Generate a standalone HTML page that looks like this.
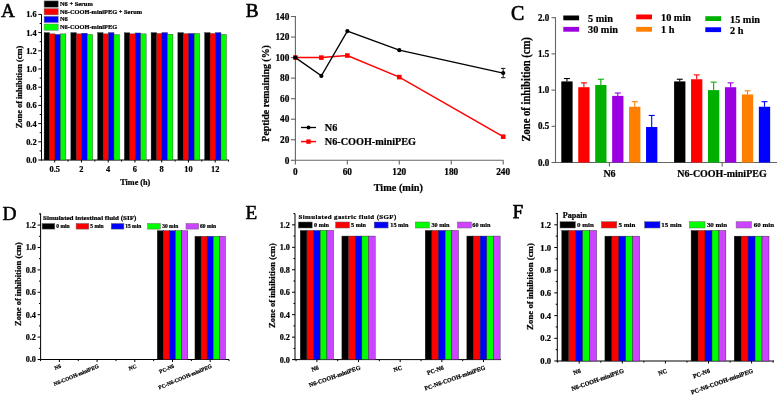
<!DOCTYPE html>
<html><head><meta charset="utf-8"><style>
html,body{margin:0;padding:0;background:#fff;}
svg{display:block;will-change:transform;}
text{font-family:"Liberation Serif", serif; stroke:#000; stroke-width:0.22px;}
</style></head><body>
<svg width="777" height="396" viewBox="0 0 777 396">
<rect x="0" y="0" width="777" height="396" fill="#fff"/>
<text x="0.90" y="16.80" font-size="19.3" font-weight="normal" text-anchor="start" fill="#000" style="stroke-width:0.5px">A</text>
<line x1="41.50" y1="14.40" x2="41.50" y2="160.50" stroke="#000" stroke-width="1.0"/>
<line x1="38.30" y1="160.00" x2="41.50" y2="160.00" stroke="#000" stroke-width="1.0"/>
<text x="36.60" y="162.90" font-size="8.4" font-weight="bold" text-anchor="end" fill="#000" >0.0</text>
<line x1="39.70" y1="150.90" x2="41.50" y2="150.90" stroke="#000" stroke-width="1.0"/>
<line x1="38.30" y1="141.80" x2="41.50" y2="141.80" stroke="#000" stroke-width="1.0"/>
<text x="36.60" y="144.70" font-size="8.4" font-weight="bold" text-anchor="end" fill="#000" >0.2</text>
<line x1="39.70" y1="132.70" x2="41.50" y2="132.70" stroke="#000" stroke-width="1.0"/>
<line x1="38.30" y1="123.60" x2="41.50" y2="123.60" stroke="#000" stroke-width="1.0"/>
<text x="36.60" y="126.50" font-size="8.4" font-weight="bold" text-anchor="end" fill="#000" >0.4</text>
<line x1="39.70" y1="114.50" x2="41.50" y2="114.50" stroke="#000" stroke-width="1.0"/>
<line x1="38.30" y1="105.40" x2="41.50" y2="105.40" stroke="#000" stroke-width="1.0"/>
<text x="36.60" y="108.30" font-size="8.4" font-weight="bold" text-anchor="end" fill="#000" >0.6</text>
<line x1="39.70" y1="96.30" x2="41.50" y2="96.30" stroke="#000" stroke-width="1.0"/>
<line x1="38.30" y1="87.20" x2="41.50" y2="87.20" stroke="#000" stroke-width="1.0"/>
<text x="36.60" y="90.10" font-size="8.4" font-weight="bold" text-anchor="end" fill="#000" >0.8</text>
<line x1="39.70" y1="78.10" x2="41.50" y2="78.10" stroke="#000" stroke-width="1.0"/>
<line x1="38.30" y1="69.00" x2="41.50" y2="69.00" stroke="#000" stroke-width="1.0"/>
<text x="36.60" y="71.90" font-size="8.4" font-weight="bold" text-anchor="end" fill="#000" >1.0</text>
<line x1="39.70" y1="59.90" x2="41.50" y2="59.90" stroke="#000" stroke-width="1.0"/>
<line x1="38.30" y1="50.80" x2="41.50" y2="50.80" stroke="#000" stroke-width="1.0"/>
<text x="36.60" y="53.70" font-size="8.4" font-weight="bold" text-anchor="end" fill="#000" >1.2</text>
<line x1="39.70" y1="41.70" x2="41.50" y2="41.70" stroke="#000" stroke-width="1.0"/>
<line x1="38.30" y1="32.60" x2="41.50" y2="32.60" stroke="#000" stroke-width="1.0"/>
<text x="36.60" y="35.50" font-size="8.4" font-weight="bold" text-anchor="end" fill="#000" >1.4</text>
<line x1="39.70" y1="23.50" x2="41.50" y2="23.50" stroke="#000" stroke-width="1.0"/>
<line x1="38.30" y1="14.40" x2="41.50" y2="14.40" stroke="#000" stroke-width="1.0"/>
<text x="36.60" y="17.30" font-size="8.4" font-weight="bold" text-anchor="end" fill="#000" >1.6</text>
<line x1="41.00" y1="160.00" x2="228.70" y2="160.00" stroke="#000" stroke-width="1.0"/>
<rect x="44.10" y="32.60" width="5.45" height="127.40" fill="#000000" stroke="#222" stroke-width="0.35"/>
<rect x="49.55" y="33.87" width="5.45" height="126.13" fill="#ff0000" stroke="#222" stroke-width="0.35"/>
<rect x="55.00" y="34.42" width="5.45" height="125.58" fill="#0000ff" stroke="#222" stroke-width="0.35"/>
<rect x="60.45" y="33.87" width="5.45" height="126.13" fill="#00ff00" stroke="#222" stroke-width="0.35"/>
<line x1="54.70" y1="160.00" x2="54.70" y2="162.50" stroke="#000" stroke-width="1.0"/>
<line x1="68.08" y1="160.00" x2="68.08" y2="161.60" stroke="#000" stroke-width="1.0"/>
<text x="54.70" y="172.00" font-size="8.4" font-weight="bold" text-anchor="middle" fill="#000" >0.5</text>
<rect x="70.85" y="32.60" width="5.45" height="127.40" fill="#000000" stroke="#222" stroke-width="0.35"/>
<rect x="76.30" y="33.87" width="5.45" height="126.13" fill="#ff0000" stroke="#222" stroke-width="0.35"/>
<rect x="81.75" y="33.24" width="5.45" height="126.76" fill="#0000ff" stroke="#222" stroke-width="0.35"/>
<rect x="87.20" y="34.42" width="5.45" height="125.58" fill="#00ff00" stroke="#222" stroke-width="0.35"/>
<line x1="81.45" y1="160.00" x2="81.45" y2="162.50" stroke="#000" stroke-width="1.0"/>
<line x1="94.83" y1="160.00" x2="94.83" y2="161.60" stroke="#000" stroke-width="1.0"/>
<text x="81.45" y="172.00" font-size="8.4" font-weight="bold" text-anchor="middle" fill="#000" >2</text>
<rect x="97.60" y="32.60" width="5.45" height="127.40" fill="#000000" stroke="#222" stroke-width="0.35"/>
<rect x="103.05" y="33.87" width="5.45" height="126.13" fill="#ff0000" stroke="#222" stroke-width="0.35"/>
<rect x="108.50" y="32.60" width="5.45" height="127.40" fill="#0000ff" stroke="#222" stroke-width="0.35"/>
<rect x="113.95" y="34.60" width="5.45" height="125.40" fill="#00ff00" stroke="#222" stroke-width="0.35"/>
<line x1="108.20" y1="160.00" x2="108.20" y2="162.50" stroke="#000" stroke-width="1.0"/>
<line x1="121.58" y1="160.00" x2="121.58" y2="161.60" stroke="#000" stroke-width="1.0"/>
<text x="108.20" y="172.00" font-size="8.4" font-weight="bold" text-anchor="middle" fill="#000" >4</text>
<rect x="124.35" y="32.78" width="5.45" height="127.22" fill="#000000" stroke="#222" stroke-width="0.35"/>
<rect x="129.80" y="33.87" width="5.45" height="126.13" fill="#ff0000" stroke="#222" stroke-width="0.35"/>
<rect x="135.25" y="32.96" width="5.45" height="127.04" fill="#0000ff" stroke="#222" stroke-width="0.35"/>
<rect x="140.70" y="33.87" width="5.45" height="126.13" fill="#00ff00" stroke="#222" stroke-width="0.35"/>
<line x1="134.95" y1="160.00" x2="134.95" y2="162.50" stroke="#000" stroke-width="1.0"/>
<line x1="148.32" y1="160.00" x2="148.32" y2="161.60" stroke="#000" stroke-width="1.0"/>
<text x="134.95" y="172.00" font-size="8.4" font-weight="bold" text-anchor="middle" fill="#000" >6</text>
<rect x="151.10" y="32.60" width="5.45" height="127.40" fill="#000000" stroke="#222" stroke-width="0.35"/>
<rect x="156.55" y="33.51" width="5.45" height="126.49" fill="#ff0000" stroke="#222" stroke-width="0.35"/>
<rect x="162.00" y="32.60" width="5.45" height="127.40" fill="#0000ff" stroke="#222" stroke-width="0.35"/>
<rect x="167.45" y="34.24" width="5.45" height="125.76" fill="#00ff00" stroke="#222" stroke-width="0.35"/>
<line x1="161.70" y1="160.00" x2="161.70" y2="162.50" stroke="#000" stroke-width="1.0"/>
<line x1="175.07" y1="160.00" x2="175.07" y2="161.60" stroke="#000" stroke-width="1.0"/>
<text x="161.70" y="172.00" font-size="8.4" font-weight="bold" text-anchor="middle" fill="#000" >8</text>
<rect x="177.85" y="32.60" width="5.45" height="127.40" fill="#000000" stroke="#222" stroke-width="0.35"/>
<rect x="183.30" y="33.69" width="5.45" height="126.31" fill="#ff0000" stroke="#222" stroke-width="0.35"/>
<rect x="188.75" y="33.51" width="5.45" height="126.49" fill="#0000ff" stroke="#222" stroke-width="0.35"/>
<rect x="194.20" y="33.51" width="5.45" height="126.49" fill="#00ff00" stroke="#222" stroke-width="0.35"/>
<line x1="188.45" y1="160.00" x2="188.45" y2="162.50" stroke="#000" stroke-width="1.0"/>
<line x1="201.82" y1="160.00" x2="201.82" y2="161.60" stroke="#000" stroke-width="1.0"/>
<text x="188.45" y="172.00" font-size="8.4" font-weight="bold" text-anchor="middle" fill="#000" >10</text>
<rect x="204.60" y="32.60" width="5.45" height="127.40" fill="#000000" stroke="#222" stroke-width="0.35"/>
<rect x="210.05" y="33.51" width="5.45" height="126.49" fill="#ff0000" stroke="#222" stroke-width="0.35"/>
<rect x="215.50" y="32.60" width="5.45" height="127.40" fill="#0000ff" stroke="#222" stroke-width="0.35"/>
<rect x="220.95" y="34.42" width="5.45" height="125.58" fill="#00ff00" stroke="#222" stroke-width="0.35"/>
<line x1="215.20" y1="160.00" x2="215.20" y2="162.50" stroke="#000" stroke-width="1.0"/>
<line x1="228.57" y1="160.00" x2="228.57" y2="161.60" stroke="#000" stroke-width="1.0"/>
<text x="215.20" y="172.00" font-size="8.4" font-weight="bold" text-anchor="middle" fill="#000" >12</text>
<text x="135.30" y="185.00" font-size="8.2" font-weight="bold" text-anchor="middle" fill="#000" >Time (h)</text>
<text x="0.00" y="0.00" font-size="8.4" font-weight="bold" text-anchor="middle" fill="#000" transform="translate(21.9,87) rotate(-90)">Zone of inhibition (cm)</text>
<rect x="44.10" y="0.90" width="14.10" height="6.30" fill="#000000" stroke="#777" stroke-width="0.5"/>
<text x="60.00" y="6.00" font-size="6.4" font-weight="bold" text-anchor="start" fill="#000" >N6 + Serum</text>
<rect x="44.10" y="8.60" width="14.10" height="6.30" fill="#ff0000" stroke="#777" stroke-width="0.5"/>
<text x="60.00" y="13.70" font-size="6.4" font-weight="bold" text-anchor="start" fill="#000" >N6-COOH-miniPEG + Serum</text>
<rect x="44.10" y="16.30" width="14.10" height="6.30" fill="#0000ff" stroke="#777" stroke-width="0.5"/>
<text x="60.00" y="21.40" font-size="6.4" font-weight="bold" text-anchor="start" fill="#000" >N6</text>
<rect x="44.10" y="24.00" width="14.10" height="6.30" fill="#00ff00" stroke="#777" stroke-width="0.5"/>
<text x="60.00" y="29.10" font-size="6.4" font-weight="bold" text-anchor="start" fill="#000" >N6-COOH-miniPEG</text>
<text x="245.70" y="17.30" font-size="19.2" font-weight="normal" text-anchor="start" fill="#000" style="stroke-width:0.6px">B</text>
<line x1="295.40" y1="16.00" x2="295.40" y2="160.80" stroke="#666" stroke-width="1.1"/>
<line x1="290.90" y1="160.30" x2="295.40" y2="160.30" stroke="#666" stroke-width="1.1"/>
<text x="0" y="0" font-size="9.3" font-weight="bold" text-anchor="end" fill="#000" transform="translate(289.40,163.50) scale(1,1.1)" >0</text>
<line x1="290.90" y1="139.76" x2="295.40" y2="139.76" stroke="#666" stroke-width="1.1"/>
<text x="0" y="0" font-size="9.3" font-weight="bold" text-anchor="end" fill="#000" transform="translate(289.40,142.96) scale(1,1.1)" >20</text>
<line x1="290.90" y1="119.22" x2="295.40" y2="119.22" stroke="#666" stroke-width="1.1"/>
<text x="0" y="0" font-size="9.3" font-weight="bold" text-anchor="end" fill="#000" transform="translate(289.40,122.42) scale(1,1.1)" >40</text>
<line x1="290.90" y1="98.68" x2="295.40" y2="98.68" stroke="#666" stroke-width="1.1"/>
<text x="0" y="0" font-size="9.3" font-weight="bold" text-anchor="end" fill="#000" transform="translate(289.40,101.88) scale(1,1.1)" >60</text>
<line x1="290.90" y1="78.14" x2="295.40" y2="78.14" stroke="#666" stroke-width="1.1"/>
<text x="0" y="0" font-size="9.3" font-weight="bold" text-anchor="end" fill="#000" transform="translate(289.40,81.34) scale(1,1.1)" >80</text>
<line x1="290.90" y1="57.60" x2="295.40" y2="57.60" stroke="#666" stroke-width="1.1"/>
<text x="0" y="0" font-size="9.3" font-weight="bold" text-anchor="end" fill="#000" transform="translate(289.40,60.80) scale(1,1.1)" >100</text>
<line x1="290.90" y1="37.06" x2="295.40" y2="37.06" stroke="#666" stroke-width="1.1"/>
<text x="0" y="0" font-size="9.3" font-weight="bold" text-anchor="end" fill="#000" transform="translate(289.40,40.26) scale(1,1.1)" >120</text>
<line x1="290.90" y1="16.52" x2="295.40" y2="16.52" stroke="#666" stroke-width="1.1"/>
<text x="0" y="0" font-size="9.3" font-weight="bold" text-anchor="end" fill="#000" transform="translate(289.40,19.72) scale(1,1.1)" >140</text>
<line x1="294.90" y1="160.30" x2="503.40" y2="160.30" stroke="#666" stroke-width="1.1"/>
<line x1="295.40" y1="160.30" x2="295.40" y2="164.50" stroke="#666" stroke-width="1.1"/>
<text x="0" y="0" font-size="9.3" font-weight="bold" text-anchor="middle" fill="#000" transform="translate(295.40,175.30) scale(1,1.1)" >0</text>
<line x1="347.35" y1="160.30" x2="347.35" y2="164.50" stroke="#666" stroke-width="1.1"/>
<text x="0" y="0" font-size="9.3" font-weight="bold" text-anchor="middle" fill="#000" transform="translate(347.35,175.30) scale(1,1.1)" >60</text>
<line x1="399.30" y1="160.30" x2="399.30" y2="164.50" stroke="#666" stroke-width="1.1"/>
<text x="0" y="0" font-size="9.3" font-weight="bold" text-anchor="middle" fill="#000" transform="translate(399.30,175.30) scale(1,1.1)" >120</text>
<line x1="451.25" y1="160.30" x2="451.25" y2="164.50" stroke="#666" stroke-width="1.1"/>
<text x="0" y="0" font-size="9.3" font-weight="bold" text-anchor="middle" fill="#000" transform="translate(451.25,175.30) scale(1,1.1)" >180</text>
<line x1="503.20" y1="160.30" x2="503.20" y2="164.50" stroke="#666" stroke-width="1.1"/>
<text x="0" y="0" font-size="9.3" font-weight="bold" text-anchor="middle" fill="#000" transform="translate(503.20,175.30) scale(1,1.1)" >240</text>
<text x="0" y="0" font-size="10.3" font-weight="bold" text-anchor="middle" fill="#000" transform="translate(398.30,191.30) scale(1,1.1)" >Time (min)</text>
<text x="0.00" y="0.00" font-size="9.9" font-weight="bold" text-anchor="middle" fill="#000" transform="translate(269.0,93.4) rotate(-90) scale(1,1.1)">Peptide remaining (%)</text>
<polyline points="295.40,57.60 321.38,57.60 347.35,55.55 399.30,77.11 503.20,136.68" fill="none" stroke="#ff0000" stroke-width="1.5"/>
<rect x="293.10" y="55.30" width="4.60" height="4.60" fill="#ff0000"/>
<rect x="319.07" y="55.30" width="4.60" height="4.60" fill="#ff0000"/>
<rect x="345.05" y="53.25" width="4.60" height="4.60" fill="#ff0000"/>
<rect x="397.00" y="74.81" width="4.60" height="4.60" fill="#ff0000"/>
<rect x="500.90" y="134.38" width="4.60" height="4.60" fill="#ff0000"/>
<polyline points="295.40,57.60 321.38,75.88 347.35,31.10 399.30,50.21 503.20,73.01" fill="none" stroke="#000" stroke-width="1.3"/>
<line x1="503.20" y1="68.40" x2="503.20" y2="77.70" stroke="#000" stroke-width="0.9"/>
<line x1="501.00" y1="68.40" x2="505.40" y2="68.40" stroke="#000" stroke-width="0.9"/>
<line x1="501.00" y1="77.70" x2="505.40" y2="77.70" stroke="#000" stroke-width="0.9"/>
<circle cx="295.40" cy="57.60" r="2.1" fill="#000"/>
<circle cx="321.38" cy="75.88" r="2.1" fill="#000"/>
<circle cx="347.35" cy="31.10" r="2.1" fill="#000"/>
<circle cx="399.30" cy="50.21" r="2.1" fill="#000"/>
<circle cx="503.20" cy="73.01" r="2.1" fill="#000"/>
<line x1="301.00" y1="127.50" x2="316.00" y2="127.50" stroke="#000" stroke-width="1.3"/>
<circle cx="308.5" cy="127.5" r="2.0" fill="#000"/>
<line x1="301.00" y1="141.60" x2="316.00" y2="141.60" stroke="#ff0000" stroke-width="1.5"/>
<rect x="306.30" y="139.40" width="4.40" height="4.40" fill="#ff0000"/>
<text x="0" y="0" font-size="10.2" font-weight="bold" text-anchor="start" fill="#000" transform="translate(324.80,131.30) scale(1,1.1)" >N6</text>
<text x="0" y="0" font-size="10.2" font-weight="bold" text-anchor="start" fill="#000" transform="translate(324.80,145.40) scale(1,1.1)" >N6-COOH-miniPEG</text>
<text x="511.00" y="19.90" font-size="19.9" font-weight="normal" text-anchor="start" fill="#000" style="stroke-width:0.7px">C</text>
<line x1="555.50" y1="17.20" x2="555.50" y2="163.00" stroke="#666" stroke-width="1.1"/>
<line x1="551.50" y1="162.50" x2="555.50" y2="162.50" stroke="#666" stroke-width="1.1"/>
<text x="0" y="0" font-size="9.0" font-weight="bold" text-anchor="end" fill="#000" transform="translate(549.30,165.60) scale(1,1.08)" >0.0</text>
<line x1="551.50" y1="126.30" x2="555.50" y2="126.30" stroke="#666" stroke-width="1.1"/>
<text x="0" y="0" font-size="9.0" font-weight="bold" text-anchor="end" fill="#000" transform="translate(549.30,129.40) scale(1,1.08)" >0.5</text>
<line x1="551.50" y1="90.10" x2="555.50" y2="90.10" stroke="#666" stroke-width="1.1"/>
<text x="0" y="0" font-size="9.0" font-weight="bold" text-anchor="end" fill="#000" transform="translate(549.30,93.20) scale(1,1.08)" >1.0</text>
<line x1="551.50" y1="53.90" x2="555.50" y2="53.90" stroke="#666" stroke-width="1.1"/>
<text x="0" y="0" font-size="9.0" font-weight="bold" text-anchor="end" fill="#000" transform="translate(549.30,57.00) scale(1,1.08)" >1.5</text>
<line x1="551.50" y1="17.70" x2="555.50" y2="17.70" stroke="#666" stroke-width="1.1"/>
<text x="0" y="0" font-size="9.0" font-weight="bold" text-anchor="end" fill="#000" transform="translate(549.30,20.80) scale(1,1.08)" >2.0</text>
<line x1="555.00" y1="162.50" x2="777.00" y2="162.50" stroke="#666" stroke-width="1.1"/>
<rect x="561.30" y="81.41" width="11.30" height="81.09" fill="#000000"/>
<line x1="566.95" y1="78.52" x2="566.95" y2="81.41" stroke="#000000" stroke-width="1.1"/>
<line x1="563.95" y1="78.52" x2="569.95" y2="78.52" stroke="#000000" stroke-width="1.1"/>
<rect x="578.25" y="87.20" width="11.30" height="75.30" fill="#ff0000"/>
<line x1="583.90" y1="82.86" x2="583.90" y2="87.20" stroke="#ff0000" stroke-width="1.1"/>
<line x1="580.90" y1="82.86" x2="586.90" y2="82.86" stroke="#ff0000" stroke-width="1.1"/>
<rect x="595.20" y="85.03" width="11.30" height="77.47" fill="#00b000"/>
<line x1="600.85" y1="79.24" x2="600.85" y2="85.03" stroke="#00b000" stroke-width="1.1"/>
<line x1="597.85" y1="79.24" x2="603.85" y2="79.24" stroke="#00b000" stroke-width="1.1"/>
<rect x="612.15" y="95.89" width="11.30" height="66.61" fill="#9b00e0"/>
<line x1="617.80" y1="93.00" x2="617.80" y2="95.89" stroke="#9b00e0" stroke-width="1.1"/>
<line x1="614.80" y1="93.00" x2="620.80" y2="93.00" stroke="#9b00e0" stroke-width="1.1"/>
<rect x="629.10" y="106.75" width="11.30" height="55.75" fill="#ff8000"/>
<line x1="634.75" y1="101.68" x2="634.75" y2="106.75" stroke="#ff8000" stroke-width="1.1"/>
<line x1="631.75" y1="101.68" x2="637.75" y2="101.68" stroke="#ff8000" stroke-width="1.1"/>
<rect x="646.05" y="127.02" width="11.30" height="35.48" fill="#0000ff"/>
<line x1="651.70" y1="115.44" x2="651.70" y2="127.02" stroke="#0000ff" stroke-width="1.1"/>
<line x1="648.70" y1="115.44" x2="654.70" y2="115.44" stroke="#0000ff" stroke-width="1.1"/>
<line x1="609.40" y1="162.50" x2="609.40" y2="166.50" stroke="#666" stroke-width="1.1"/>
<rect x="674.10" y="81.41" width="11.30" height="81.09" fill="#000000"/>
<line x1="679.75" y1="79.24" x2="679.75" y2="81.41" stroke="#000000" stroke-width="1.1"/>
<line x1="676.75" y1="79.24" x2="682.75" y2="79.24" stroke="#000000" stroke-width="1.1"/>
<rect x="691.05" y="79.24" width="11.30" height="83.26" fill="#ff0000"/>
<line x1="696.70" y1="74.90" x2="696.70" y2="79.24" stroke="#ff0000" stroke-width="1.1"/>
<line x1="693.70" y1="74.90" x2="699.70" y2="74.90" stroke="#ff0000" stroke-width="1.1"/>
<rect x="708.00" y="90.10" width="11.30" height="72.40" fill="#00b000"/>
<line x1="713.65" y1="82.14" x2="713.65" y2="90.10" stroke="#00b000" stroke-width="1.1"/>
<line x1="710.65" y1="82.14" x2="716.65" y2="82.14" stroke="#00b000" stroke-width="1.1"/>
<rect x="724.95" y="87.20" width="11.30" height="75.30" fill="#9b00e0"/>
<line x1="730.60" y1="82.86" x2="730.60" y2="87.20" stroke="#9b00e0" stroke-width="1.1"/>
<line x1="727.60" y1="82.86" x2="733.60" y2="82.86" stroke="#9b00e0" stroke-width="1.1"/>
<rect x="741.90" y="94.44" width="11.30" height="68.06" fill="#ff8000"/>
<line x1="747.55" y1="90.82" x2="747.55" y2="94.44" stroke="#ff8000" stroke-width="1.1"/>
<line x1="744.55" y1="90.82" x2="750.55" y2="90.82" stroke="#ff8000" stroke-width="1.1"/>
<rect x="758.85" y="106.75" width="11.30" height="55.75" fill="#0000ff"/>
<line x1="764.50" y1="101.68" x2="764.50" y2="106.75" stroke="#0000ff" stroke-width="1.1"/>
<line x1="761.50" y1="101.68" x2="767.50" y2="101.68" stroke="#0000ff" stroke-width="1.1"/>
<line x1="722.20" y1="162.50" x2="722.20" y2="166.50" stroke="#666" stroke-width="1.1"/>
<text x="0" y="0" font-size="10.0" font-weight="bold" text-anchor="middle" fill="#000" transform="translate(609.50,177.20) scale(1,1.08)" >N6</text>
<text x="0" y="0" font-size="10.0" font-weight="bold" text-anchor="middle" fill="#000" transform="translate(722.00,177.20) scale(1,1.08)" >N6-COOH-miniPEG</text>
<text x="0.00" y="0.00" font-size="10.6" font-weight="bold" text-anchor="middle" fill="#000" transform="translate(530.4,89.4) rotate(-90) scale(1,1.08)">Zone of inhibition (cm)</text>
<rect x="563.30" y="15.50" width="15.80" height="4.80" fill="#000000"/>
<text x="0" y="0" font-size="10.3" font-weight="bold" text-anchor="start" fill="#000" transform="translate(588.00,22.00) scale(1,1.08)" >5 min</text>
<rect x="636.20" y="14.50" width="15.80" height="4.80" fill="#ff0000"/>
<text x="0" y="0" font-size="10.3" font-weight="bold" text-anchor="start" fill="#000" transform="translate(661.00,21.00) scale(1,1.08)" >10 min</text>
<rect x="705.30" y="16.20" width="15.80" height="4.80" fill="#00b000"/>
<text x="0" y="0" font-size="10.3" font-weight="bold" text-anchor="start" fill="#000" transform="translate(730.00,22.70) scale(1,1.08)" >15 min</text>
<rect x="563.30" y="26.90" width="15.80" height="4.80" fill="#9b00e0"/>
<text x="0" y="0" font-size="10.3" font-weight="bold" text-anchor="start" fill="#000" transform="translate(588.00,33.40) scale(1,1.08)" >30 min</text>
<rect x="636.20" y="26.90" width="15.80" height="4.80" fill="#ff8000"/>
<text x="0" y="0" font-size="10.3" font-weight="bold" text-anchor="start" fill="#000" transform="translate(661.00,33.40) scale(1,1.08)" >1 h</text>
<rect x="705.30" y="27.30" width="15.80" height="4.80" fill="#0000ff"/>
<text x="0" y="0" font-size="10.3" font-weight="bold" text-anchor="start" fill="#000" transform="translate(730.00,33.80) scale(1,1.08)" >2 h</text>
<text x="2.60" y="220.30" font-size="19.5" font-weight="normal" text-anchor="start" fill="#000" style="stroke-width:0.5px">D</text>
<line x1="40.60" y1="213.30" x2="40.60" y2="360.00" stroke="#000" stroke-width="1.0"/>
<line x1="37.60" y1="359.50" x2="40.60" y2="359.50" stroke="#000" stroke-width="1.0"/>
<text x="35.90" y="362.40" font-size="8.2" font-weight="bold" text-anchor="end" fill="#000" >0.0</text>
<line x1="39.00" y1="348.30" x2="40.60" y2="348.30" stroke="#000" stroke-width="1.0"/>
<line x1="37.60" y1="337.10" x2="40.60" y2="337.10" stroke="#000" stroke-width="1.0"/>
<text x="35.90" y="340.00" font-size="8.2" font-weight="bold" text-anchor="end" fill="#000" >0.2</text>
<line x1="39.00" y1="325.90" x2="40.60" y2="325.90" stroke="#000" stroke-width="1.0"/>
<line x1="37.60" y1="314.70" x2="40.60" y2="314.70" stroke="#000" stroke-width="1.0"/>
<text x="35.90" y="317.60" font-size="8.2" font-weight="bold" text-anchor="end" fill="#000" >0.4</text>
<line x1="39.00" y1="303.50" x2="40.60" y2="303.50" stroke="#000" stroke-width="1.0"/>
<line x1="37.60" y1="292.30" x2="40.60" y2="292.30" stroke="#000" stroke-width="1.0"/>
<text x="35.90" y="295.20" font-size="8.2" font-weight="bold" text-anchor="end" fill="#000" >0.6</text>
<line x1="39.00" y1="281.10" x2="40.60" y2="281.10" stroke="#000" stroke-width="1.0"/>
<line x1="37.60" y1="269.90" x2="40.60" y2="269.90" stroke="#000" stroke-width="1.0"/>
<text x="35.90" y="272.80" font-size="8.2" font-weight="bold" text-anchor="end" fill="#000" >0.8</text>
<line x1="39.00" y1="258.70" x2="40.60" y2="258.70" stroke="#000" stroke-width="1.0"/>
<line x1="37.60" y1="247.50" x2="40.60" y2="247.50" stroke="#000" stroke-width="1.0"/>
<text x="35.90" y="250.40" font-size="8.2" font-weight="bold" text-anchor="end" fill="#000" >1.0</text>
<line x1="39.00" y1="236.30" x2="40.60" y2="236.30" stroke="#000" stroke-width="1.0"/>
<line x1="37.60" y1="225.10" x2="40.60" y2="225.10" stroke="#000" stroke-width="1.0"/>
<text x="35.90" y="228.00" font-size="8.2" font-weight="bold" text-anchor="end" fill="#000" >1.2</text>
<line x1="39.00" y1="213.90" x2="40.60" y2="213.90" stroke="#000" stroke-width="1.0"/>
<line x1="40.10" y1="359.50" x2="228.90" y2="359.50" stroke="#000" stroke-width="1.0"/>
<line x1="59.40" y1="359.50" x2="59.40" y2="362.00" stroke="#000" stroke-width="1.0"/>
<line x1="78.25" y1="359.50" x2="78.25" y2="361.10" stroke="#000" stroke-width="1.0"/>
<text x="0.00" y="0.00" font-size="5.4" font-weight="bold" text-anchor="end" fill="#000" transform="translate(61.40,367.50) rotate(-22.5)">N6</text>
<line x1="97.10" y1="359.50" x2="97.10" y2="362.00" stroke="#000" stroke-width="1.0"/>
<line x1="115.95" y1="359.50" x2="115.95" y2="361.10" stroke="#000" stroke-width="1.0"/>
<text x="0.00" y="0.00" font-size="5.4" font-weight="bold" text-anchor="end" fill="#000" transform="translate(99.10,367.50) rotate(-22.5)">N6-COOH-miniPEG</text>
<line x1="134.80" y1="359.50" x2="134.80" y2="362.00" stroke="#000" stroke-width="1.0"/>
<line x1="153.65" y1="359.50" x2="153.65" y2="361.10" stroke="#000" stroke-width="1.0"/>
<text x="0.00" y="0.00" font-size="5.4" font-weight="bold" text-anchor="end" fill="#000" transform="translate(136.80,367.50) rotate(-22.5)">NC</text>
<rect x="157.25" y="230.70" width="6.10" height="128.80" fill="#000000" stroke="#222" stroke-width="0.4"/>
<rect x="163.35" y="230.70" width="6.10" height="128.80" fill="#ff0000" stroke="#222" stroke-width="0.4"/>
<rect x="169.45" y="230.70" width="6.10" height="128.80" fill="#0000ff" stroke="#222" stroke-width="0.4"/>
<rect x="175.55" y="230.70" width="6.10" height="128.80" fill="#00ff00" stroke="#222" stroke-width="0.4"/>
<rect x="181.65" y="230.70" width="6.10" height="128.80" fill="#cc44ff" stroke="#222" stroke-width="0.4"/>
<line x1="172.50" y1="359.50" x2="172.50" y2="362.00" stroke="#000" stroke-width="1.0"/>
<line x1="191.35" y1="359.50" x2="191.35" y2="361.10" stroke="#000" stroke-width="1.0"/>
<text x="0.00" y="0.00" font-size="5.4" font-weight="bold" text-anchor="end" fill="#000" transform="translate(174.50,367.50) rotate(-22.5)">PC-N6</text>
<rect x="194.95" y="236.30" width="6.10" height="123.20" fill="#000000" stroke="#222" stroke-width="0.4"/>
<rect x="201.05" y="236.30" width="6.10" height="123.20" fill="#ff0000" stroke="#222" stroke-width="0.4"/>
<rect x="207.15" y="236.30" width="6.10" height="123.20" fill="#0000ff" stroke="#222" stroke-width="0.4"/>
<rect x="213.25" y="236.30" width="6.10" height="123.20" fill="#00ff00" stroke="#222" stroke-width="0.4"/>
<rect x="219.35" y="236.30" width="6.10" height="123.20" fill="#cc44ff" stroke="#222" stroke-width="0.4"/>
<line x1="210.20" y1="359.50" x2="210.20" y2="362.00" stroke="#000" stroke-width="1.0"/>
<line x1="229.05" y1="359.50" x2="229.05" y2="361.10" stroke="#000" stroke-width="1.0"/>
<text x="0.00" y="0.00" font-size="5.4" font-weight="bold" text-anchor="end" fill="#000" transform="translate(212.20,367.50) rotate(-22.5)">PC-N6-COOH-miniPEG</text>
<line x1="40.55" y1="359.50" x2="40.55" y2="361.10" stroke="#000" stroke-width="1.0"/>
<text x="0.00" y="0.00" font-size="8.5" font-weight="bold" text-anchor="middle" fill="#000" transform="translate(21.2,284.0) rotate(-90)">Zone of inhibition (cm)</text>
<text x="43.00" y="220.20" font-size="7.05" font-weight="bold" text-anchor="start" fill="#000" letter-spacing="0">Simulated intestinal fluid (SIF)</text>
<rect x="42.10" y="223.50" width="12.70" height="5.60" fill="#000000" stroke="#666" stroke-width="0.5"/>
<text x="56.30" y="228.10" font-size="5.5" font-weight="bold" text-anchor="start" fill="#000" >0 min</text>
<rect x="76.10" y="223.50" width="12.70" height="5.60" fill="#ff0000" stroke="#666" stroke-width="0.5"/>
<text x="90.30" y="228.10" font-size="5.5" font-weight="bold" text-anchor="start" fill="#000" >5 min</text>
<rect x="111.20" y="223.50" width="12.70" height="5.60" fill="#0000ff" stroke="#666" stroke-width="0.5"/>
<text x="125.20" y="228.10" font-size="5.5" font-weight="bold" text-anchor="start" fill="#000" >15 min</text>
<rect x="147.70" y="223.50" width="12.70" height="5.60" fill="#00ff00" stroke="#666" stroke-width="0.5"/>
<text x="162.20" y="228.10" font-size="5.5" font-weight="bold" text-anchor="start" fill="#000" >30 min</text>
<rect x="186.00" y="223.50" width="12.70" height="5.60" fill="#cc44ff" stroke="#666" stroke-width="0.5"/>
<text x="200.00" y="228.10" font-size="5.5" font-weight="bold" text-anchor="start" fill="#000" >60 min</text>
<text x="245.60" y="218.90" font-size="19.2" font-weight="normal" text-anchor="start" fill="#000" style="stroke-width:0.5px">E</text>
<line x1="295.00" y1="213.50" x2="295.00" y2="360.10" stroke="#000" stroke-width="1.0"/>
<line x1="292.00" y1="359.60" x2="295.00" y2="359.60" stroke="#000" stroke-width="1.0"/>
<text x="289.90" y="362.50" font-size="8.2" font-weight="bold" text-anchor="end" fill="#000" >0.0</text>
<line x1="293.40" y1="348.37" x2="295.00" y2="348.37" stroke="#000" stroke-width="1.0"/>
<line x1="292.00" y1="337.14" x2="295.00" y2="337.14" stroke="#000" stroke-width="1.0"/>
<text x="289.90" y="340.04" font-size="8.2" font-weight="bold" text-anchor="end" fill="#000" >0.2</text>
<line x1="293.40" y1="325.91" x2="295.00" y2="325.91" stroke="#000" stroke-width="1.0"/>
<line x1="292.00" y1="314.68" x2="295.00" y2="314.68" stroke="#000" stroke-width="1.0"/>
<text x="289.90" y="317.58" font-size="8.2" font-weight="bold" text-anchor="end" fill="#000" >0.4</text>
<line x1="293.40" y1="303.45" x2="295.00" y2="303.45" stroke="#000" stroke-width="1.0"/>
<line x1="292.00" y1="292.22" x2="295.00" y2="292.22" stroke="#000" stroke-width="1.0"/>
<text x="289.90" y="295.12" font-size="8.2" font-weight="bold" text-anchor="end" fill="#000" >0.6</text>
<line x1="293.40" y1="280.99" x2="295.00" y2="280.99" stroke="#000" stroke-width="1.0"/>
<line x1="292.00" y1="269.76" x2="295.00" y2="269.76" stroke="#000" stroke-width="1.0"/>
<text x="289.90" y="272.66" font-size="8.2" font-weight="bold" text-anchor="end" fill="#000" >0.8</text>
<line x1="293.40" y1="258.53" x2="295.00" y2="258.53" stroke="#000" stroke-width="1.0"/>
<line x1="292.00" y1="247.30" x2="295.00" y2="247.30" stroke="#000" stroke-width="1.0"/>
<text x="289.90" y="250.20" font-size="8.2" font-weight="bold" text-anchor="end" fill="#000" >1.0</text>
<line x1="293.40" y1="236.07" x2="295.00" y2="236.07" stroke="#000" stroke-width="1.0"/>
<line x1="292.00" y1="224.84" x2="295.00" y2="224.84" stroke="#000" stroke-width="1.0"/>
<text x="289.90" y="227.74" font-size="8.2" font-weight="bold" text-anchor="end" fill="#000" >1.2</text>
<line x1="293.40" y1="213.61" x2="295.00" y2="213.61" stroke="#000" stroke-width="1.0"/>
<line x1="294.50" y1="359.60" x2="501.00" y2="359.60" stroke="#000" stroke-width="1.0"/>
<rect x="300.25" y="230.46" width="6.66" height="129.14" fill="#000000" stroke="#222" stroke-width="0.4"/>
<rect x="306.91" y="230.46" width="6.66" height="129.14" fill="#ff0000" stroke="#222" stroke-width="0.4"/>
<rect x="313.57" y="230.46" width="6.66" height="129.14" fill="#0000ff" stroke="#222" stroke-width="0.4"/>
<rect x="320.23" y="230.46" width="6.66" height="129.14" fill="#00ff00" stroke="#222" stroke-width="0.4"/>
<rect x="326.89" y="230.46" width="6.66" height="129.14" fill="#cc44ff" stroke="#222" stroke-width="0.4"/>
<line x1="316.90" y1="359.60" x2="316.90" y2="362.10" stroke="#000" stroke-width="1.0"/>
<line x1="337.72" y1="359.60" x2="337.72" y2="361.20" stroke="#000" stroke-width="1.0"/>
<text x="0.00" y="0.00" font-size="6.05" font-weight="bold" text-anchor="end" fill="#000" transform="translate(319.20,369.20) rotate(-19.5)">N6</text>
<rect x="341.90" y="236.07" width="6.66" height="123.53" fill="#000000" stroke="#222" stroke-width="0.4"/>
<rect x="348.56" y="236.07" width="6.66" height="123.53" fill="#ff0000" stroke="#222" stroke-width="0.4"/>
<rect x="355.22" y="236.07" width="6.66" height="123.53" fill="#0000ff" stroke="#222" stroke-width="0.4"/>
<rect x="361.88" y="236.07" width="6.66" height="123.53" fill="#00ff00" stroke="#222" stroke-width="0.4"/>
<rect x="368.54" y="236.07" width="6.66" height="123.53" fill="#cc44ff" stroke="#222" stroke-width="0.4"/>
<line x1="358.55" y1="359.60" x2="358.55" y2="362.10" stroke="#000" stroke-width="1.0"/>
<line x1="379.37" y1="359.60" x2="379.37" y2="361.20" stroke="#000" stroke-width="1.0"/>
<text x="0.00" y="0.00" font-size="6.05" font-weight="bold" text-anchor="end" fill="#000" transform="translate(360.85,369.20) rotate(-19.5)">N6-COOH-miniPEG</text>
<line x1="400.20" y1="359.60" x2="400.20" y2="362.10" stroke="#000" stroke-width="1.0"/>
<line x1="421.02" y1="359.60" x2="421.02" y2="361.20" stroke="#000" stroke-width="1.0"/>
<text x="0.00" y="0.00" font-size="6.05" font-weight="bold" text-anchor="end" fill="#000" transform="translate(402.50,369.20) rotate(-19.5)">NC</text>
<rect x="425.20" y="230.46" width="6.66" height="129.14" fill="#000000" stroke="#222" stroke-width="0.4"/>
<rect x="431.86" y="230.46" width="6.66" height="129.14" fill="#ff0000" stroke="#222" stroke-width="0.4"/>
<rect x="438.52" y="230.46" width="6.66" height="129.14" fill="#0000ff" stroke="#222" stroke-width="0.4"/>
<rect x="445.18" y="230.46" width="6.66" height="129.14" fill="#00ff00" stroke="#222" stroke-width="0.4"/>
<rect x="451.84" y="230.46" width="6.66" height="129.14" fill="#cc44ff" stroke="#222" stroke-width="0.4"/>
<line x1="441.85" y1="359.60" x2="441.85" y2="362.10" stroke="#000" stroke-width="1.0"/>
<line x1="462.67" y1="359.60" x2="462.67" y2="361.20" stroke="#000" stroke-width="1.0"/>
<text x="0.00" y="0.00" font-size="6.05" font-weight="bold" text-anchor="end" fill="#000" transform="translate(444.15,369.20) rotate(-19.5)">PC-N6</text>
<rect x="466.85" y="236.07" width="6.66" height="123.53" fill="#000000" stroke="#222" stroke-width="0.4"/>
<rect x="473.51" y="236.07" width="6.66" height="123.53" fill="#ff0000" stroke="#222" stroke-width="0.4"/>
<rect x="480.17" y="236.07" width="6.66" height="123.53" fill="#0000ff" stroke="#222" stroke-width="0.4"/>
<rect x="486.83" y="236.07" width="6.66" height="123.53" fill="#00ff00" stroke="#222" stroke-width="0.4"/>
<rect x="493.49" y="236.07" width="6.66" height="123.53" fill="#cc44ff" stroke="#222" stroke-width="0.4"/>
<line x1="483.50" y1="359.60" x2="483.50" y2="362.10" stroke="#000" stroke-width="1.0"/>
<text x="0.00" y="0.00" font-size="6.05" font-weight="bold" text-anchor="end" fill="#000" transform="translate(485.80,369.20) rotate(-19.5)">PC-N6-COOH-miniPEG</text>
<line x1="296.07" y1="359.60" x2="296.07" y2="361.20" stroke="#000" stroke-width="1.0"/>
<text x="0.00" y="0.00" font-size="8.6" font-weight="bold" text-anchor="middle" fill="#000" transform="translate(275.0,285.5) rotate(-90)">Zone of inhibition (cm)</text>
<text x="298.60" y="218.90" font-size="6.9" font-weight="bold" text-anchor="start" fill="#000" letter-spacing="0.39">Simulated gastric fluid (SGF)</text>
<rect x="298.30" y="222.00" width="13.90" height="6.00" fill="#000000" stroke="#666" stroke-width="0.5"/>
<text x="314.00" y="226.90" font-size="6.2" font-weight="bold" text-anchor="start" fill="#000" >0 min</text>
<rect x="335.60" y="222.00" width="13.90" height="6.00" fill="#ff0000" stroke="#666" stroke-width="0.5"/>
<text x="351.00" y="226.90" font-size="6.2" font-weight="bold" text-anchor="start" fill="#000" >5 min</text>
<rect x="374.20" y="222.00" width="13.90" height="6.00" fill="#0000ff" stroke="#666" stroke-width="0.5"/>
<text x="390.30" y="226.90" font-size="6.2" font-weight="bold" text-anchor="start" fill="#000" >15 min</text>
<rect x="415.40" y="222.00" width="13.90" height="6.00" fill="#00ff00" stroke="#666" stroke-width="0.5"/>
<text x="431.40" y="226.90" font-size="6.2" font-weight="bold" text-anchor="start" fill="#000" >30 min</text>
<rect x="457.50" y="222.00" width="13.90" height="6.00" fill="#cc44ff" stroke="#666" stroke-width="0.5"/>
<text x="472.30" y="226.90" font-size="6.2" font-weight="bold" text-anchor="start" fill="#000" >60 min</text>
<text x="512.80" y="218.30" font-size="18.6" font-weight="normal" text-anchor="start" fill="#000" style="stroke-width:0.75px">F</text>
<line x1="557.30" y1="213.00" x2="557.30" y2="361.50" stroke="#000" stroke-width="1.0"/>
<line x1="554.30" y1="361.00" x2="557.30" y2="361.00" stroke="#000" stroke-width="1.0"/>
<text x="551.10" y="364.00" font-size="8.6" font-weight="bold" text-anchor="end" fill="#000" >0.0</text>
<line x1="555.70" y1="349.65" x2="557.30" y2="349.65" stroke="#000" stroke-width="1.0"/>
<line x1="554.30" y1="338.30" x2="557.30" y2="338.30" stroke="#000" stroke-width="1.0"/>
<text x="551.10" y="341.30" font-size="8.6" font-weight="bold" text-anchor="end" fill="#000" >0.2</text>
<line x1="555.70" y1="326.95" x2="557.30" y2="326.95" stroke="#000" stroke-width="1.0"/>
<line x1="554.30" y1="315.60" x2="557.30" y2="315.60" stroke="#000" stroke-width="1.0"/>
<text x="551.10" y="318.60" font-size="8.6" font-weight="bold" text-anchor="end" fill="#000" >0.4</text>
<line x1="555.70" y1="304.25" x2="557.30" y2="304.25" stroke="#000" stroke-width="1.0"/>
<line x1="554.30" y1="292.90" x2="557.30" y2="292.90" stroke="#000" stroke-width="1.0"/>
<text x="551.10" y="295.90" font-size="8.6" font-weight="bold" text-anchor="end" fill="#000" >0.6</text>
<line x1="555.70" y1="281.55" x2="557.30" y2="281.55" stroke="#000" stroke-width="1.0"/>
<line x1="554.30" y1="270.20" x2="557.30" y2="270.20" stroke="#000" stroke-width="1.0"/>
<text x="551.10" y="273.20" font-size="8.6" font-weight="bold" text-anchor="end" fill="#000" >0.8</text>
<line x1="555.70" y1="258.85" x2="557.30" y2="258.85" stroke="#000" stroke-width="1.0"/>
<line x1="554.30" y1="247.50" x2="557.30" y2="247.50" stroke="#000" stroke-width="1.0"/>
<text x="551.10" y="250.50" font-size="8.6" font-weight="bold" text-anchor="end" fill="#000" >1.0</text>
<line x1="555.70" y1="236.15" x2="557.30" y2="236.15" stroke="#000" stroke-width="1.0"/>
<line x1="554.30" y1="224.80" x2="557.30" y2="224.80" stroke="#000" stroke-width="1.0"/>
<text x="551.10" y="227.80" font-size="8.6" font-weight="bold" text-anchor="end" fill="#000" >1.2</text>
<line x1="555.70" y1="213.45" x2="557.30" y2="213.45" stroke="#000" stroke-width="1.0"/>
<line x1="556.80" y1="361.00" x2="774.00" y2="361.00" stroke="#000" stroke-width="1.0"/>
<rect x="561.80" y="230.48" width="6.96" height="130.52" fill="#000000" stroke="#222" stroke-width="0.4"/>
<rect x="568.76" y="230.48" width="6.96" height="130.52" fill="#ff0000" stroke="#222" stroke-width="0.4"/>
<rect x="575.72" y="230.48" width="6.96" height="130.52" fill="#0000ff" stroke="#222" stroke-width="0.4"/>
<rect x="582.68" y="230.48" width="6.96" height="130.52" fill="#00ff00" stroke="#222" stroke-width="0.4"/>
<rect x="589.64" y="230.48" width="6.96" height="130.52" fill="#cc44ff" stroke="#222" stroke-width="0.4"/>
<line x1="579.20" y1="361.00" x2="579.20" y2="363.50" stroke="#000" stroke-width="1.0"/>
<line x1="600.75" y1="361.00" x2="600.75" y2="362.60" stroke="#000" stroke-width="1.0"/>
<text x="0.00" y="0.00" font-size="6.2" font-weight="bold" text-anchor="end" fill="#000" transform="translate(581.20,372.50) rotate(-19.5)">N6</text>
<rect x="604.90" y="236.15" width="6.96" height="124.85" fill="#000000" stroke="#222" stroke-width="0.4"/>
<rect x="611.86" y="236.15" width="6.96" height="124.85" fill="#ff0000" stroke="#222" stroke-width="0.4"/>
<rect x="618.82" y="236.15" width="6.96" height="124.85" fill="#0000ff" stroke="#222" stroke-width="0.4"/>
<rect x="625.78" y="236.15" width="6.96" height="124.85" fill="#00ff00" stroke="#222" stroke-width="0.4"/>
<rect x="632.74" y="236.15" width="6.96" height="124.85" fill="#cc44ff" stroke="#222" stroke-width="0.4"/>
<line x1="622.30" y1="361.00" x2="622.30" y2="363.50" stroke="#000" stroke-width="1.0"/>
<line x1="643.85" y1="361.00" x2="643.85" y2="362.60" stroke="#000" stroke-width="1.0"/>
<text x="0.00" y="0.00" font-size="6.2" font-weight="bold" text-anchor="end" fill="#000" transform="translate(624.30,372.50) rotate(-19.5)">N6-COOH-miniPEG</text>
<line x1="665.40" y1="361.00" x2="665.40" y2="363.50" stroke="#000" stroke-width="1.0"/>
<line x1="686.95" y1="361.00" x2="686.95" y2="362.60" stroke="#000" stroke-width="1.0"/>
<text x="0.00" y="0.00" font-size="6.2" font-weight="bold" text-anchor="end" fill="#000" transform="translate(667.40,372.50) rotate(-19.5)">NC</text>
<rect x="691.10" y="230.48" width="6.96" height="130.52" fill="#000000" stroke="#222" stroke-width="0.4"/>
<rect x="698.06" y="230.48" width="6.96" height="130.52" fill="#ff0000" stroke="#222" stroke-width="0.4"/>
<rect x="705.02" y="230.48" width="6.96" height="130.52" fill="#0000ff" stroke="#222" stroke-width="0.4"/>
<rect x="711.98" y="230.48" width="6.96" height="130.52" fill="#00ff00" stroke="#222" stroke-width="0.4"/>
<rect x="718.94" y="230.48" width="6.96" height="130.52" fill="#cc44ff" stroke="#222" stroke-width="0.4"/>
<line x1="708.50" y1="361.00" x2="708.50" y2="363.50" stroke="#000" stroke-width="1.0"/>
<line x1="730.05" y1="361.00" x2="730.05" y2="362.60" stroke="#000" stroke-width="1.0"/>
<text x="0.00" y="0.00" font-size="6.2" font-weight="bold" text-anchor="end" fill="#000" transform="translate(710.50,372.50) rotate(-19.5)">PC-N6</text>
<rect x="734.20" y="236.15" width="6.96" height="124.85" fill="#000000" stroke="#222" stroke-width="0.4"/>
<rect x="741.16" y="236.15" width="6.96" height="124.85" fill="#ff0000" stroke="#222" stroke-width="0.4"/>
<rect x="748.12" y="236.15" width="6.96" height="124.85" fill="#0000ff" stroke="#222" stroke-width="0.4"/>
<rect x="755.08" y="236.15" width="6.96" height="124.85" fill="#00ff00" stroke="#222" stroke-width="0.4"/>
<rect x="762.04" y="236.15" width="6.96" height="124.85" fill="#cc44ff" stroke="#222" stroke-width="0.4"/>
<line x1="751.60" y1="361.00" x2="751.60" y2="363.50" stroke="#000" stroke-width="1.0"/>
<line x1="773.15" y1="361.00" x2="773.15" y2="362.60" stroke="#000" stroke-width="1.0"/>
<text x="0.00" y="0.00" font-size="6.2" font-weight="bold" text-anchor="end" fill="#000" transform="translate(753.60,372.50) rotate(-19.5)">PC-N6-COOH-miniPEG</text>
<line x1="557.65" y1="361.00" x2="557.65" y2="362.60" stroke="#000" stroke-width="1.0"/>
<text x="0.00" y="0.00" font-size="8.8" font-weight="bold" text-anchor="middle" fill="#000" transform="translate(533.2,286.5) rotate(-90)">Zone of inhibition (cm)</text>
<text x="562.70" y="217.60" font-size="8.1" font-weight="bold" text-anchor="start" fill="#000" letter-spacing="0">Papain</text>
<rect x="560.00" y="221.70" width="15.40" height="6.30" fill="#000000" stroke="#666" stroke-width="0.5"/>
<text x="577.00" y="227.00" font-size="6.95" font-weight="bold" text-anchor="start" fill="#000" >0 min</text>
<rect x="601.40" y="221.70" width="15.40" height="6.30" fill="#ff0000" stroke="#666" stroke-width="0.5"/>
<text x="618.50" y="227.00" font-size="6.95" font-weight="bold" text-anchor="start" fill="#000" >5 min</text>
<rect x="644.60" y="221.70" width="15.40" height="6.30" fill="#0000ff" stroke="#666" stroke-width="0.5"/>
<text x="661.30" y="227.00" font-size="6.95" font-weight="bold" text-anchor="start" fill="#000" >15 min</text>
<rect x="689.60" y="221.70" width="15.40" height="6.30" fill="#00ff00" stroke="#666" stroke-width="0.5"/>
<text x="706.90" y="227.00" font-size="6.95" font-weight="bold" text-anchor="start" fill="#000" >30 min</text>
<rect x="736.10" y="221.70" width="15.40" height="6.30" fill="#cc44ff" stroke="#666" stroke-width="0.5"/>
<text x="753.80" y="227.00" font-size="6.95" font-weight="bold" text-anchor="start" fill="#000" >60 min</text>
</svg>
</body></html>
